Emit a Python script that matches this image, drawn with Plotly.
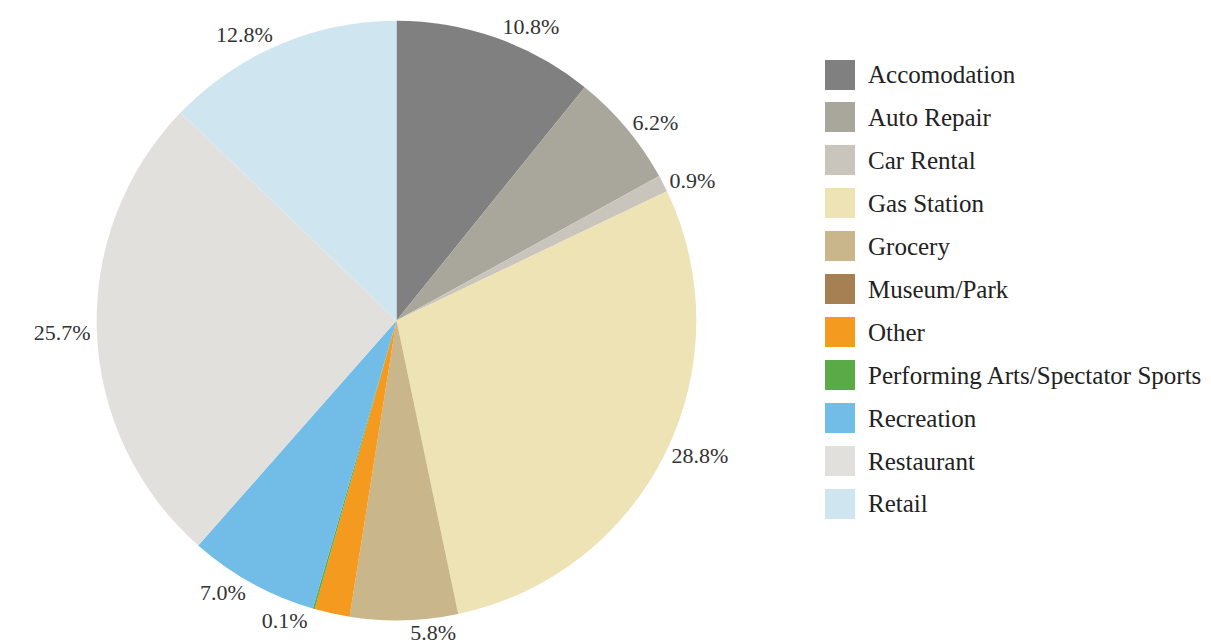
import plotly.graph_objects as go

# data
categories = ['Accomodation', 'Auto Repair', 'Car Rental', 'Gas Station', 'Grocery',
              'Museum/Park', 'Other', 'Performing Arts/Spectator Sports', 'Recreation',
              'Restaurant', 'Retail']
shares = [10.8, 6.2, 0.9, 28.8, 5.8, 0.0, 1.9, 0.1, 7.0, 25.7, 12.8]
slice_labels = ['10.8%', '6.2%', '0.9%', '28.8%', '5.8%', '', '', '0.1%', '7.0%', '25.7%', '12.8%']
colors = ['#808080', '#a9a79b', '#c9c5bd', '#ede3b5', '#c9b68a', '#a67f53',
          '#f39a1f', '#5aab47', '#72bde8', '#e2e0dc', '#cfe6f0']

W, H = 1211, 643

fig = go.Figure(go.Pie(
    labels=categories,
    values=shares,
    text=slice_labels,
    textinfo='text',
    textposition='outside',
    sort=False,
    direction='clockwise',
    rotation=0,
    marker=dict(colors=colors, line=dict(width=0)),
    outsidetextfont=dict(family='Times New Roman', size=22, color='#333333'),
    domain=dict(x=[83 / W, 694 / W], y=[(H - 626) / H, (H - 13) / H]),
    showlegend=False,
))

# legend drawn by hand so the swatches and spacing match
for i, (name, col) in enumerate(zip(categories, colors)):
    cy = 68 + i * 43.9
    fig.add_annotation(xref='paper', yref='paper', x=832 / W, y=1 - cy / H,
                       text=' ', showarrow=False, xanchor='center', yanchor='middle',
                       width=30, height=30, bgcolor=col, borderpad=0, borderwidth=0)
    fig.add_annotation(xref='paper', yref='paper', x=858 / W, y=1 - cy / H,
                       text=name, showarrow=False, xanchor='left', yanchor='middle',
                       font=dict(family='Liberation Serif', size=25, color='#222222'))

fig.update_layout(width=W, height=H, margin=dict(l=0, r=0, t=0, b=0))

fig.write_html('out.html')
